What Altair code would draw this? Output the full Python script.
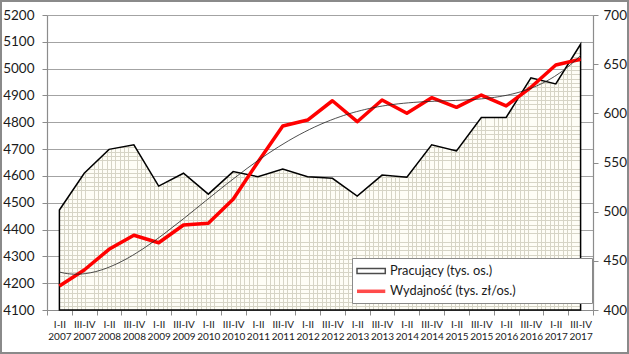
import json
import altair as alt
import pandas as pd

# ---------------- data ----------------
periods = ["I-II", "III-IV"] * 11
years = [y for y in range(2007, 2018) for _ in (0, 1)]
pracujacy = [4473, 4610, 4699, 4716, 4562, 4610, 4532, 4616, 4597, 4626, 4597,
             4591, 4525, 4603, 4595, 4716, 4693, 4818, 4818, 4966, 4943, 5091]
wydajnosc = [424.4, 440.7, 461.7, 476.0, 468.4, 486.4, 488.2, 512.6, 550.5, 587.1, 593.2,
             612.8, 591.5, 613.6, 600.0, 615.9, 606.1, 618.6, 607.5, 626.5, 649.2, 655.0]
series = ["Pracujący (tys. os.)", "Wydajność (tys. zł/os.)"]
left_ticks = list(range(4100, 5201, 100))
right_ticks = list(range(400, 701, 50))

df = pd.DataFrame({"idx": list(range(len(periods))), "p": pracujacy, "w": wydajnosc})

# ---------------- style ----------------
W, H = 546, 295
FONT = "Lato"
LINE_C = "#d6d4c6"
BG_C = "#fefdf6"


def stripes(length_px, spacing_px, width_px, line_color, gap_color):
    stops = []
    step = spacing_px / length_px
    w = width_px / length_px
    k = 0
    while k * step < 1:
        a = k * step
        b = min(a + w, 1)
        c = min((k + 1) * step, 1)
        stops += [alt.GradientStop(color=line_color, offset=a),
                  alt.GradientStop(color=line_color, offset=b),
                  alt.GradientStop(color=gap_color, offset=b),
                  alt.GradientStop(color=gap_color, offset=c)]
        k += 1
    return stops


grad_v = alt.LinearGradient(gradient="linear", x1=0, x2=1, y1=0, y2=0,
                            stops=stripes(521, 4.3, 0.9, LINE_C, BG_C))
grad_h = alt.LinearGradient(gradient="linear", x1=0, x2=0, y1=0, y2=1,
                            stops=stripes(266, 4.3, 0.9, LINE_C, "rgba(0,0,0,0)"))

per_js = json.dumps(periods)
yr_js = json.dumps([str(y) for y in years])

x_enc = alt.X(
    "idx:Q",
    scale=alt.Scale(domain=[-0.5, len(periods) - 0.5], nice=False, zero=False),
    axis=alt.Axis(
        values=[k / 2 - 0.5 for k in range(2 * len(periods) + 1)],
        labelExpr=f"datum.value % 1 === 0 ? [{per_js}[datum.value], {yr_js}[datum.value]] : ''",
        tickOpacity={"condition": {"test": "datum.value % 1 === 0", "value": 0}, "value": 1},
        tickSize=5, tickColor="#8c8c8c", domainColor="#8c8c8c", domainWidth=1.2,
        labelFont=FONT, labelFontSize=10, labelColor="#1a1a1a", labelPadding=4,
        labelLineHeight=12, labelOverlap=False, labelFlush=False, labelBound=False,
        grid=False, title=None,
    ),
)

yl_enc = alt.Y(
    "p:Q",
    scale=alt.Scale(domain=[4100, 5200], nice=False, zero=False),
    axis=alt.Axis(values=left_ticks, orient="left", format="d", grid=True,
                  gridColor="#a3a3a3", gridWidth=1.2, tickSize=5, tickColor="#8c8c8c",
                  domainColor="#8c8c8c", domainWidth=1.2, labelFont=FONT,
                  labelFontSize=13.5, labelColor="#1a1a1a", labelPadding=8, title=None),
)

yr_enc = alt.Y(
    "w:Q",
    scale=alt.Scale(domain=[400, 700], nice=False, zero=False),
    axis=alt.Axis(values=right_ticks, orient="right", grid=False, tickSize=5,
                  tickColor="#8c8c8c", domainColor="#8c8c8c", domainWidth=1.2,
                  labelFont=FONT, labelFontSize=13.5, labelColor="#1a1a1a",
                  labelPadding=5, title=None),
)

base = alt.Chart(df)

area_v = base.mark_area(fill=grad_v).encode(x=x_enc, y=yl_enc, y2=alt.datum(4100))
area_h = base.mark_area(fill=grad_h, stroke="black", strokeWidth=1.5,
                        strokeJoin="miter").encode(x=x_enc, y=yl_enc, y2=alt.datum(4100))
left_group = alt.layer(area_v, area_h)

red = base.mark_line(color="#ff0000", strokeWidth=3.5, strokeJoin="round").encode(x=x_enc, y=yr_enc)
trend = base.transform_regression("idx", "w", method="poly", order=4).mark_line(
    color="#222222", strokeWidth=0.8).encode(x=x_enc, y=yr_enc)
right_group = alt.layer(red, trend)

legend_df = pd.DataFrame({"series": series})
rect_path = "M-1.125,-0.31H2.41V0.31H-1.125Z"
line_path = "M-1.125,0H2.41"
# invisible trailing padding (ends with a zero-width char so it is not trimmed)
pad_spaces = "\u00a0" * 22 + "\u200b"
leg_props = dict(orient="none", legendX=305, legendY=243, title=None,
                 fillColor="white", strokeColor="#8a8a8a", padding=4,
                 labelFont=FONT, labelFontSize=12.8, labelColor="#1a1a1a",
                 labelExpr=f"datum.label + '{pad_spaces}'",
                 symbolSize=256, labelOffset=14, rowPadding=3.3, labelLimit=600)
legend_layer = alt.Chart(legend_df).transform_filter("false").mark_point(filled=False).encode(
    shape=alt.Shape("series:N", scale=alt.Scale(domain=series, range=[rect_path, line_path]),
                    legend=alt.Legend(**leg_props)),
    stroke=alt.Stroke("series:N", scale=alt.Scale(domain=series, range=["black", "#ff0000"]),
                      legend=alt.Legend(**leg_props)),
    strokeWidth=alt.StrokeWidth("series:N", scale=alt.Scale(domain=series, range=[1.5, 3.5]),
                                legend=alt.Legend(**leg_props)),
)

border = alt.Chart(pd.DataFrame({"a": [0]})).mark_rect(
    fill=None, stroke="#8a8a8a", strokeWidth=2).encode(
    x=alt.value(-46), x2=alt.value(W + 35), y=alt.value(-14), y2=alt.value(H + 43))

chart = alt.layer(left_group, right_group, legend_layer, border).resolve_scale(
    y="independent").properties(
    width=W, height=H,
    autosize=alt.AutoSizeParams(type="none"),
    padding={"left": 47, "top": 15, "right": 36, "bottom": 44},
    background="white",
).configure_view(stroke=None)

chart.save("out.html", embed_options={"renderer": "svg", "actions": False})
